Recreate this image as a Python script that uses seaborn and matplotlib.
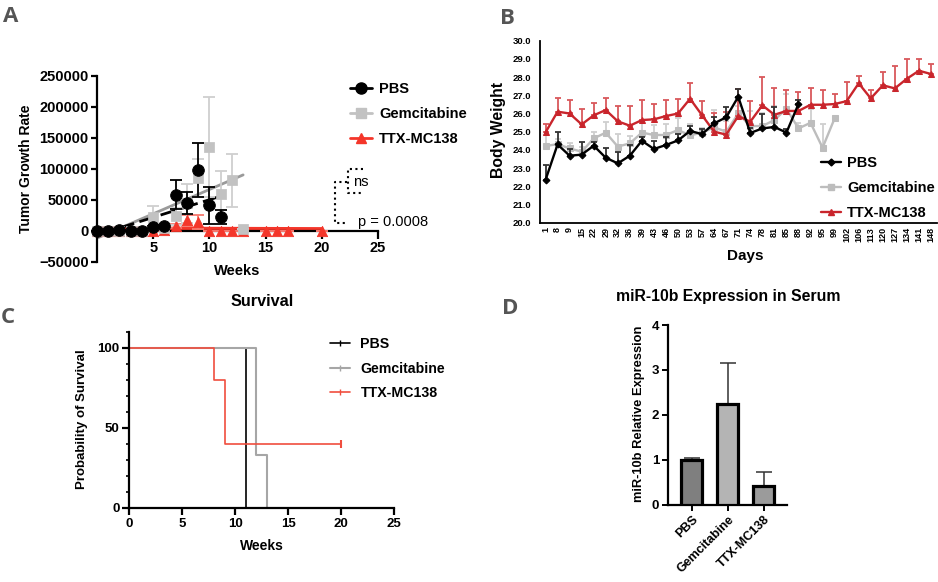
import numpy as np
import matplotlib
matplotlib.use("Agg")
import matplotlib.pyplot as plt
import seaborn as sns
from matplotlib.lines import Line2D
from matplotlib.ticker import MultipleLocator

# ---- data --------------------------------------------------------------
groups = ["PBS", "Gemcitabine", "TTX-MC138"]

# A: tumor growth rate per week (mean, sem)
pbs_weeks = [0, 1, 2, 3, 4, 5, 6, 7, 8, 9, 10, 11]
pbs_tgr = [0, 0, 1000, 0, 0, 6000, 8000, 58000, 45000, 98000, 41000, 22000]
pbs_sem = [500, 500, 800, 500, 500, 2000, 2000, 23000, 18000, 43000, 30000, 11000]
gem_weeks = [0, 1, 2, 3, 4, 5, 6, 7, 8, 9, 10, 11, 12, 13]
gem_tgr = [0, 0, 0, 0, 0, 22000, 5000, 23000, 44000, 85000, 135000, 60000, 81000, 3000]
gem_sem = [0, 0, 0, 0, 0, 18000, 3000, 13000, 32000, 30000, 81000, 37000, 43000, 0]
ttx_weeks = [0, 1, 2, 3, 4, 5, 6, 7, 8, 9, 10, 11, 12, 13, 15, 16, 17, 20]
ttx_tgr = [0, 0, 0, 0, 0, 0, 1000, 8000, 17000, 14000, 0, 0, 0, 0, 0, 0, 0, 0]
ttx_sem = [0, 0, 0, 0, 0, 500, 1000, 3000, 9000, 12000, 0, 0, 0, 0, 0, 0, 0, 0]
# linear fits (ends)
pbs_fit_x = [0, 10.7]
pbs_fit_y = [-7000, 54000]
gem_fit_x = [0, 13]
gem_fit_y = [-12000, 90000]
ttx_fit_x = [0, 20]
ttx_fit_y = [4000, 3000]

# B: body weight by day (mean, upper sd)
days = [1, 8, 9, 15, 22, 29, 32, 36, 39, 43, 46, 50, 53, 57, 64, 67, 71, 74, 78, 81,
        85, 88, 92, 95, 99, 102, 106, 113, 120, 127, 134, 141, 148]
pbs_bw = [22.35, 24.3, 23.68, 23.74, 24.23, 23.57, 23.26, 23.68, 24.5, 24.05, 24.27,
          24.52, 25.04, 24.87, 25.46, 25.79, 26.92, 24.93, 25.18, 25.26, 24.95, 26.52]
pbs_bw_err = [0.8, 0.7, 0.35, 0.7, 0.2, 0.55, 0.6, 0.6, 0.2, 0.45, 0.45, 0.35, 0.25,
              0.3, 0.35, 0.55, 0.45, 0.3, 0.8, 1.1, 0.2, 0.2]
gem_bw = [24.21, 24.32, 24.08, 23.9, 24.63, 24.95, 24.18, 24.36, 24.95, 24.82, 24.82,
          25.09, 24.8, 24.95, 25.24, 25.0, 26.0, 25.31, 25.31, 25.64, 26.26, 25.18,
          25.49, 24.12, 25.73]
gem_bw_err = [0.6, 0.26, 0.32, 0.28, 0.37, 0.6, 0.72, 0.4, 0.6, 0.55, 0.6, 0.64, 0.62,
              0.25, 0.96, 0.6, 0.4, 0.8, 0.7, 0.76, 0.8, 0.3, 0.74, 1.28, 0.0]
ttx_bw = [24.96, 26.1, 26.0, 25.4, 25.9, 26.19, 25.57, 25.33, 25.64, 25.68, 25.86, 26.0,
          26.81, 25.9, 25.0, 24.84, 25.86, 25.55, 26.45, 25.93, 26.14, 26.14, 26.48,
          26.48, 26.52, 26.68, 27.66, 26.83, 27.55, 27.38, 27.91, 28.35, 28.17]
ttx_bw_err = [0.46, 0.73, 0.74, 0.85, 0.7, 0.66, 0.84, 1.08, 1.1, 0.82, 0.9, 0.78, 0.88,
              0.8, 1.0, 1.26, 1.5, 1.15, 1.54, 1.45, 1.15, 1.06, 0.9, 0.81, 0.55, 1.03,
              0.42, 0.46, 0.75, 1.22, 1.08, 0.64, 0.53]

# C: Kaplan-Meier survival (%)
pbs_surv_t = [0, 11]
pbs_surv = [100, 0]
gem_surv_t = [0, 12, 13]
gem_surv = [100, 33.3, 0]
ttx_surv_t = [0, 8, 9, 20]
ttx_surv = [100, 80, 40, 40]

# D: miR-10b expression in serum
mir_vals = [1.0, 2.24, 0.42]
mir_err = [0.05, 0.91, 0.30]

# ---- style -------------------------------------------------------------
sns.set_style("ticks", {"axes.edgecolor": "black", "xtick.color": "black",
                        "ytick.color": "black", "text.color": "black",
                        "axes.labelcolor": "black"})
plt.rcParams["font.family"] = ["Liberation Sans", "DejaVu Sans"]
plt.rcParams["font.weight"] = "bold"
plt.rcParams["axes.labelweight"] = "bold"

BLACK, GREY, RED = "black", "#c2c2c2", "#f4362a"
W, H = 938, 582
fig = plt.figure(figsize=(W / 100, H / 100), dpi=100)


def px_axes(x0, y0, x1, y1):
    return fig.add_axes([x0 / W, 1 - y1 / H, (x1 - x0) / W, (y1 - y0) / H])


def panel_letter(x, y, s):
    fig.text(x / W, 1 - y / H, s, fontsize=16, fontweight="bold", color="#555555",
             family=["Open Sans", "DejaVu Sans"], ha="center", va="center")


# ---- A: tumor growth rate ---------------------------------------------
axA = px_axes(97, 75.7, 378, 261.7)
sns.lineplot(x=ttx_fit_x, y=ttx_fit_y, color=RED, lw=2.5, ax=axA, zorder=2)
sns.lineplot(x=gem_fit_x, y=gem_fit_y, color="#9a9a9a", lw=2, ax=axA, zorder=2)
sns.lineplot(x=pbs_fit_x, y=pbs_fit_y, color=BLACK, lw=2, ls=(0, (6, 2)), ax=axA, zorder=2)
axA.errorbar(ttx_weeks, ttx_tgr, yerr=ttx_sem, fmt="none", ecolor="#f77a70",
             elinewidth=1.3, capsize=4, capthick=1.3, zorder=3)
axA.errorbar(gem_weeks, gem_tgr, yerr=gem_sem, fmt="none", ecolor="#cfcfcf",
             elinewidth=1.3, capsize=4, capthick=1.3, zorder=3)
axA.errorbar(pbs_weeks, pbs_tgr, yerr=pbs_sem, fmt="none", ecolor=BLACK,
             elinewidth=1.3, capsize=4, capthick=1.3, zorder=4)
sns.scatterplot(x=ttx_weeks, y=ttx_tgr, marker="^", s=55, color=RED, edgecolor=RED,
                ax=axA, zorder=5, clip_on=False)
sns.scatterplot(x=gem_weeks, y=gem_tgr, marker="s", s=42, color=GREY, edgecolor=GREY,
                ax=axA, zorder=6, clip_on=False)
sns.scatterplot(x=pbs_weeks, y=pbs_tgr, marker="o", s=70, color=BLACK, edgecolor=BLACK,
                ax=axA, zorder=7, clip_on=False)
axA.set_xlim(0, 25)
axA.set_ylim(-50000, 250000)
axA.set_xticks([5, 10, 15, 20, 25])
axA.set_yticks(range(-50000, 250001, 50000))
axA.spines["bottom"].set_position(("data", 0))
axA.spines[["top", "right"]].set_visible(False)
for sp in ("left", "bottom"):
    axA.spines[sp].set_linewidth(1.6)
axA.tick_params(axis="y", length=4, width=1.6, pad=2, labelsize=10.5)
axA.tick_params(axis="x", length=5.5, width=1.6, pad=2, labelsize=10.5)
axA.set_xlabel("Weeks", fontsize=10.5, va="center")
axA.xaxis.set_label_coords(0.5, -0.048)
axA.set_ylabel("Tumor Growth Rate", fontsize=10, va="center")
axA.yaxis.set_label_coords(-0.253, 0.5)
hA = [Line2D([], [], color=BLACK, marker="o", markersize=8, lw=2),
      Line2D([], [], color=GREY, marker="s", markersize=6.5, lw=2),
      Line2D([], [], color=RED, marker="^", markersize=7.5, lw=2)]
axA.legend(hA, groups, loc="upper left", bbox_to_anchor=(350 / W, 1 - 82 / H),
           bbox_transform=fig.transFigure, frameon=False, fontsize=10.5,
           handlelength=1.5, handletextpad=0.5, labelspacing=0.75,
           borderpad=0, borderaxespad=0)
# significance brackets
dot = dict(color=BLACK, lw=1.5, ls=":", clip_on=False)
axA.plot([23.7, 22.33, 22.33, 23.7], [99500, 99500, 60800, 60800], **dot)
axA.plot([22.2, 21.17, 21.17, 22.06], [79000, 79000, 11900, 11900], **dot)
axA.text(22.8, 78000, "ns", fontsize=10.5, fontweight="normal", va="center")
axA.text(23.2, 14000, "p = 0.0008", fontsize=10.5, fontweight="normal", va="center")
panel_letter(11, 16, "A")

# ---- B: body weight ---------------------------------------------------
axB = px_axes(539.5, 40.7, 937, 222.7)
series_b = [(gem_bw, gem_bw_err, "#bdbdbd", "#cfcfcf", "s", 4),
            (ttx_bw, ttx_bw_err, "#c9252c", "#d9585c", "^", 4.5),
            (pbs_bw, pbs_bw_err, BLACK, "#333333", "D", 3.5)]
for vals, err, col, ecol, mk, ms in series_b:
    xs = np.arange(len(vals))
    axB.errorbar(xs, vals, yerr=[np.zeros(len(vals)), err], fmt="none", ecolor=ecol,
                 elinewidth=1.3, capsize=2.5, capthick=1.3)
    sns.lineplot(x=xs, y=vals, color=col, lw=1.7, marker=mk, markersize=ms,
                 markeredgecolor=col, ax=axB)
axB.set_xlim(-0.5, len(days) - 0.5)
axB.set_ylim(20, 30)
axB.set_xticks(range(len(days)))
axB.set_xticklabels(days, rotation=90)
axB.set_yticks(np.arange(20, 30.01, 1))
axB.set_yticklabels([f"{v:.1f}" for v in np.arange(20, 30.01, 1)])
axB.spines[["top", "right"]].set_visible(False)
for sp in ("left", "bottom"):
    axB.spines[sp].set_linewidth(1.3)
axB.tick_params(axis="x", length=0, pad=3, labelsize=6.5)
axB.tick_params(axis="y", length=0, pad=6, labelsize=6.8)
axB.set_xlabel("Days", fontsize=11, va="center")
axB.xaxis.set_label_coords(0.517, -0.183)
axB.set_ylabel("Body Weight", fontsize=11.3, va="center")
axB.yaxis.set_label_coords(-0.104, 0.511)
hB = [Line2D([], [], color=BLACK, marker="D", markersize=3.5, lw=1.7),
      Line2D([], [], color="#bdbdbd", marker="s", markersize=4, lw=1.7),
      Line2D([], [], color="#c9252c", marker="^", markersize=4.5, lw=1.7)]
axB.legend(hB, groups, loc="upper left", bbox_to_anchor=(821 / W, 1 - 156 / H),
           bbox_transform=fig.transFigure, frameon=False, fontsize=10.5,
           handlelength=1.4, handletextpad=0.4, labelspacing=0.75,
           borderpad=0, borderaxespad=0)
panel_letter(507, 18, "B")

# ---- C: survival ------------------------------------------------------
axC = px_axes(129.3, 331.7, 394, 508)
sns.lineplot(x=pbs_surv_t, y=pbs_surv, color=BLACK, lw=1.2, drawstyle="steps-post", ax=axC)
sns.lineplot(x=gem_surv_t, y=gem_surv, color="#a6a6a6", lw=1.5, drawstyle="steps-post", ax=axC)
sns.lineplot(x=ttx_surv_t, y=ttx_surv, color="#f04e3e", lw=1.2, drawstyle="steps-post", ax=axC)
sns.scatterplot(x=ttx_surv_t[-1:], y=ttx_surv[-1:], marker="|", s=30, color="#f04e3e",
                linewidth=1.5, ax=axC, clip_on=False)
axC.set_xlim(0, 25)
axC.set_ylim(0, 110)
axC.set_xticks(range(0, 26, 5))
axC.set_yticks([0, 50, 100])
axC.yaxis.set_minor_locator(MultipleLocator(10))
axC.spines[["top", "right"]].set_visible(False)
for sp in ("left", "bottom"):
    axC.spines[sp].set_linewidth(1.6)
axC.tick_params(axis="both", which="major", length=5, width=1.6, pad=2, labelsize=9.5)
axC.tick_params(axis="y", which="minor", length=2.5, width=1.2)
axC.set_xlabel("Weeks", fontsize=10, va="center")
axC.xaxis.set_label_coords(0.5, -0.2155)
axC.set_ylabel("Probability of Survival", fontsize=9.5, va="center")
axC.yaxis.set_label_coords(-0.177, 0.502)
hC = [Line2D([], [], color=BLACK, marker="|", markersize=5, lw=1.2),
      Line2D([], [], color="#a6a6a6", marker="|", markersize=5, lw=1.5),
      Line2D([], [], color="#f04e3e", marker="|", markersize=5, lw=1.2)]
axC.legend(hC, groups, loc="upper left", bbox_to_anchor=(330 / W, 1 - 337 / H),
           bbox_transform=fig.transFigure, frameon=False, fontsize=10.2,
           handlelength=1.4, handletextpad=0.75, labelspacing=0.75,
           borderpad=0, borderaxespad=0)
fig.text(261.7 / W, 1 - 302 / H, "Survival", fontsize=11.7, fontweight="bold",
         ha="center", va="center")
panel_letter(8, 318, "C")

# ---- D: miR-10b expression --------------------------------------------
axD = px_axes(668.3, 325, 786.7, 504.7)
sns.barplot(x=groups, y=mir_vals, hue=groups, legend=False,
            palette=["#7f7f7f", "#b4b4b4", "#9b9b9b"], edgecolor=BLACK,
            linewidth=2.3, width=0.58, ax=axD, zorder=3)
axD.errorbar(range(len(groups)), mir_vals, yerr=[np.zeros(len(groups)), mir_err],
             fmt="none", ecolor="#333333", elinewidth=1.1, capsize=6, capthick=1.1, zorder=2)
axD.set_xlim(-0.65, 2.64)
axD.set_ylim(0, 4)
axD.set_yticks(range(0, 5))
axD.spines[["top", "right"]].set_visible(False)
for sp in ("left", "bottom"):
    axD.spines[sp].set_linewidth(1.6)
axD.tick_params(axis="both", length=4.5, width=1.4, pad=2, labelsize=9.5)
axD.tick_params(axis="x", labelsize=9)
plt.setp(axD.get_xticklabels(), rotation=45, ha="right", rotation_mode="anchor")
axD.set_xlabel("")
axD.set_ylabel("miR-10b Relative Expression", fontsize=9.3, va="center")
axD.yaxis.set_label_coords(-0.246, 0.505)
fig.text(728 / W, 1 - 297 / H, "miR-10b Expression in Serum", fontsize=11.4,
         fontweight="bold", ha="center", va="center")
panel_letter(510, 308, "D")

fig.savefig("out.png", dpi=100)
